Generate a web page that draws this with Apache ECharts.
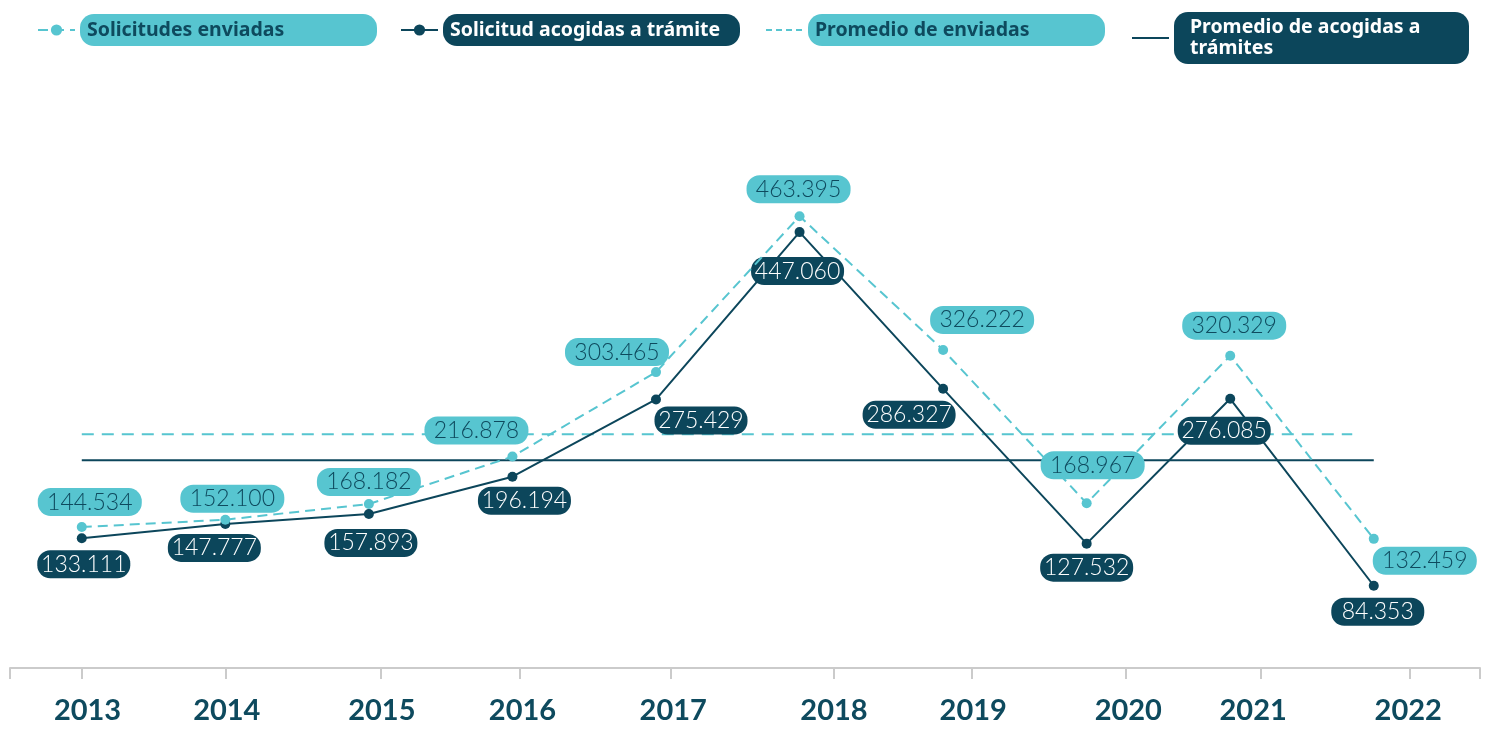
<!DOCTYPE html>
<html>
<head>
<meta charset="utf-8">
<script src="https://cdn.jsdelivr.net/npm/echarts@6/dist/echarts.min.js"></script>
<style>
  html, body { margin: 0; padding: 0; background: #fff; }
  #chart { width: 1490px; height: 730px; }
</style>
</head>
<body>
<div id="chart"></div>
<script>
// datos
const years = ['2013', '2014', '2015', '2016', '2017', '2018', '2019', '2020', '2021', '2022'];
const enviadas = [144534, 152100, 168182, 216878, 303465, 463395, 326222, 168967, 320329, 132459];
const acogidas = [133111, 147777, 157893, 196194, 275429, 447060, 286327, 127532, 276085, 84353];
const promedioEnviadas = 239653;
const promedioAcogidas = 213176;
const promedioEnviadasSpan = [0, 8.85];
const promedioAcogidasSpan = [0, 9];

// eje x: posiciones de marcas y etiquetas (en unidades del eje)
const tickValues = [-0.5, 0, 1, 2.08, 3.05, 4.1, 5.24, 6.2, 7.27, 8.21, 9.25, 9.74];
const labelValues = [0.04, 1.01, 2.09, 3.07, 4.12, 5.24, 6.21, 7.29, 8.16, 9.24];

// desplazamiento de las etiquetas respecto al punto
const offsetsEnviadas = [[8, -25], [7, -21], [0, -22], [-36, -26], [-39, -20], [-1, -27], [39, -30], [6, -38], [4, -30], [51, 22]];
const offsetsAcogidas = [[2, 26], [-11, 24], [2, 29], [12, 24], [45, 21], [-2, 39], [-34, 26], [0, 24], [-6, 32], [4, 26]];

const TEAL = '#57c5d0';
const DARK = '#0c465b';
const TEXT_DARK = '#0e4a5e';

const fmt = v => Math.floor(v / 1000) + '.' + String(v % 1000).padStart(3, '0');

const buildData = (values, offsets) => values.map((v, i) => ({
  value: [i, v],
  label: { offset: offsets[i] }
}));

const chart = echarts.init(document.getElementById('chart'));

const legendText = (bg, color, extra) => Object.assign({
  backgroundColor: bg,
  color: color,
  fontFamily: 'Noto Sans',
  fontWeight: 'bold',
  fontSize: 19.5,
  lineHeight: 20,
  width: 283,
  padding: [6, 7],
  borderRadius: 14
}, extra || {});

const legendBase = {
  orient: 'horizontal',
  itemWidth: 37,
  itemHeight: 14,
  padding: 0,
  selectedMode: false
};

chart.setOption({
  animation: false,
  backgroundColor: '#fff',
  legend: [
    Object.assign({}, legendBase, {
      left: 37, top: 14,
      data: [{ name: 'Solicitudes enviadas', textStyle: legendText(TEAL, TEXT_DARK) }]
    }),
    Object.assign({}, legendBase, {
      left: 400, top: 14,
      data: [{ name: 'Solicitud acogidas a trámite', textStyle: legendText(DARK, '#fff') }]
    }),
    Object.assign({}, legendBase, {
      left: 765, top: 14,
      data: [{
        name: 'Promedio de enviadas',
        itemStyle: { opacity: 0 },
        lineStyle: { type: [6, 4] },
        textStyle: legendText(TEAL, TEXT_DARK)
      }]
    }),
    Object.assign({}, legendBase, {
      left: 1131, top: 12,
      data: [{
        name: 'Promedio de acogidas a trámites',
        itemStyle: { opacity: 0 },
        textStyle: legendText(DARK, '#fff', {
          width: 267, lineHeight: 21, padding: [5, 12, 5, 16], overflow: 'break'
        })
      }]
    })
  ],
  grid: {
    left: 10,
    right: 10,
    top: 83,
    bottom: 62,
    outerBoundsMode: 'none'
  },
  xAxis: {
    type: 'value',
    min: -0.5,
    max: 9.74,
    splitLine: { show: false },
    axisLine: { show: true, lineStyle: { color: '#cbcbcb', width: 2 } },
    axisTick: {
      show: true,
      customValues: tickValues,
      length: 11,
      lineStyle: { color: '#cbcbcb', width: 2 }
    },
    axisLabel: {
      customValues: labelValues,
      margin: 28,
      color: TEXT_DARK,
      fontFamily: 'Lato',
      fontWeight: 'bold',
      fontSize: 29,
      formatter: (value, index) => {
        const i = labelValues.indexOf(value);
        return years[i >= 0 ? i : index];
      }
    }
  },
  yAxis: {
    type: 'value',
    min: 0,
    max: 600000,
    show: false
  },
  series: [
    {
      name: 'Promedio de enviadas',
      type: 'line',
      data: promedioEnviadasSpan.map(x => [x, promedioEnviadas]),
      symbol: 'none',
      silent: true,
      z: 1,
      itemStyle: { color: TEAL },
      lineStyle: { color: TEAL, width: 2, type: [12, 8] }
    },
    {
      name: 'Promedio de acogidas a trámites',
      type: 'line',
      data: promedioAcogidasSpan.map(x => [x, promedioAcogidas]),
      symbol: 'none',
      silent: true,
      z: 1,
      itemStyle: { color: DARK },
      lineStyle: { color: DARK, width: 2 }
    },
    {
      name: 'Solicitudes enviadas',
      type: 'line',
      data: buildData(enviadas, offsetsEnviadas),
      symbol: 'circle',
      symbolSize: 10,
      z: 3,
      itemStyle: { color: TEAL },
      lineStyle: { color: TEAL, width: 2, type: [10, 6] },
      label: {
        show: true,
        position: 'inside',
        formatter: p => fmt(p.value[1]),
        backgroundColor: TEAL,
        color: TEXT_DARK,
        fontFamily: 'Lato',
        fontWeight: 300,
        fontSize: 23,
        lineHeight: 22,
        width: 84,
        padding: [3, 10],
        borderRadius: 13
      }
    },
    {
      name: 'Solicitud acogidas a trámite',
      type: 'line',
      data: buildData(acogidas, offsetsAcogidas),
      symbol: 'circle',
      symbolSize: 10,
      z: 2,
      itemStyle: { color: DARK },
      lineStyle: { color: DARK, width: 2 },
      label: {
        show: true,
        position: 'inside',
        formatter: p => fmt(p.value[1]),
        backgroundColor: DARK,
        color: '#fff',
        fontFamily: 'Lato',
        fontWeight: 300,
        fontSize: 23,
        lineHeight: 22,
        width: 71,
        padding: [3, 11],
        borderRadius: 13
      }
    }
  ]
});
</script>
</body>
</html>
